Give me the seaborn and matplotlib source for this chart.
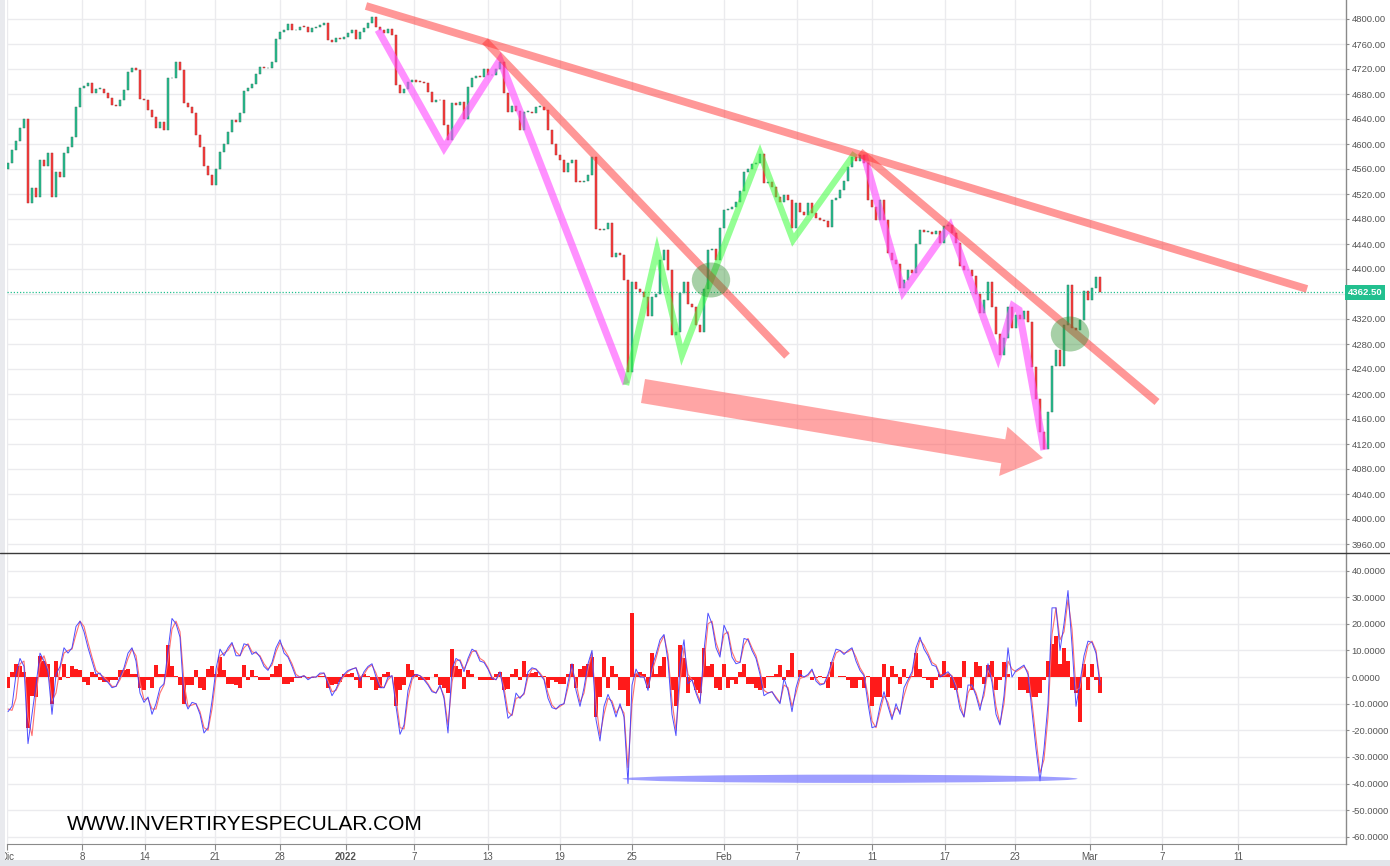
"""
S&P 500 futures (hourly) with trend annotations and an oscillator panel.
Writes out.png.
"""

import matplotlib
matplotlib.use("Agg")
import matplotlib.pyplot as plt
from matplotlib.lines import Line2D
from matplotlib.patches import Ellipse, FancyArrowPatch, Rectangle, ArrowStyle
import matplotlib.transforms as mtransforms
import numpy as np
import pandas as pd
import seaborn as sns

# ─── Data (one value per bar) ────────────────────────────────────────────────

FIRST_OPEN = 4560

CLOSE = [
    4570, 4590, 4605, 4625, 4640, 4505, 4530, 4515, 4575, 4565,
    4585, 4515, 4555, 4548, 4585, 4595, 4611, 4660, 4689, 4693,
    4697, 4682, 4688, 4688, 4681, 4674, 4662, 4661, 4670, 4686,
    4715, 4721, 4719, 4672, 4670, 4654, 4643, 4625, 4635, 4622,
    4705, 4705, 4732, 4718, 4665, 4659, 4650, 4615, 4595, 4565,
    4550, 4534, 4560, 4588, 4600, 4620, 4638, 4636, 4650, 4685,
    4690, 4696, 4712, 4723, 4721, 4722, 4731, 4768, 4779, 4782,
    4792, 4782, 4783, 4788, 4787, 4779, 4785, 4787, 4790, 4793,
    4766, 4763, 4769, 4768, 4771, 4778, 4782, 4768, 4779, 4786,
    4794, 4803, 4788, 4782, 4778, 4784, 4775, 4695, 4682, 4688,
    4700, 4703, 4700, 4699, 4697, 4683, 4667, 4671, 4670, 4630,
    4606, 4665, 4663, 4668, 4640, 4692, 4705, 4709, 4707, 4720,
    4710, 4710, 4720, 4731, 4682, 4652, 4661, 4653, 4622, 4651,
    4652, 4650, 4659, 4659, 4654, 4622, 4600, 4583, 4574, 4556,
    4570, 4575, 4540, 4539, 4541, 4550, 4580, 4464, 4462, 4464,
    4474, 4419, 4426, 4422, 4382, 4235, 4380, 4368, 4364, 4355,
    4325, 4355, 4360, 4414, 4430, 4398, 4295, 4300, 4362, 4380,
    4344, 4339, 4310, 4300, 4368, 4430, 4432, 4415, 4465, 4495,
    4496, 4500, 4507, 4525, 4555, 4560, 4568, 4570, 4584, 4538,
    4539, 4531, 4515, 4508, 4518, 4510, 4465, 4505, 4492, 4487,
    4506, 4490, 4481, 4478, 4477, 4468, 4510, 4514, 4527, 4541,
    4563, 4579, 4573, 4583, 4570, 4510, 4499, 4479, 4510, 4478,
    4426, 4414, 4408, 4370, 4382, 4398, 4394, 4440, 4462, 4459,
    4460, 4456, 4461, 4442, 4469, 4470, 4457, 4442, 4405, 4398,
    4398, 4389, 4360, 4330, 4350, 4380, 4339, 4296, 4262, 4290,
    4340, 4305, 4326, 4320, 4333, 4315, 4243, 4192, 4140, 4112,
    4172, 4245, 4270, 4245, 4310, 4375, 4305, 4302, 4318, 4365,
    4350, 4370, 4388, 4362.5,
]

OSC_FAST = [
    -13, -11, 1, 7, 4, -25, -14, -3, 9, 6,
    2, -14, 1, 4, 11, 9, 11, 19, 21, 17,
    11, 6, 1, 1.5, -1, -2, -4, -3.5, 0, 3.5,
    9, 11, 6, -6, -9.5, -7.5, -14, -10, -4, -2.5,
    10, 22, 20, 15, -8, -12, -9.5, -10, -14, -21,
    -19, -9, 3, 10.5, 8, 11, 13, 8, 8, 12.5,
    12, 8.5, 9.5, 7.5, 4, 2.5, 5.5, 11, 14, 9,
    7.5, 4, 0, 0, 0.5, -1, 0, 0, 1.5, 1.5,
    -2.5, -7, -4.5, -1, 1, 2.5, 3, 3.5, -1.5, 2,
    4, 5, 0, -4, -4, 0, 0.5, -11, -21.5, -18,
    -5, 0, 1, 0.5, -1, -3, -5.5, -6, -3, -8,
    -21, 3, 7, 6, 2, 7, 10.5, 9.5, 6, 5.5,
    3, -0.5, -1, 2, -6, -15.5, -14, -6, -8, -6,
    2, 3.5, 3, 1, -1, -8, -11.5, -12, -10.5, -10,
    -2, 5, -5, -11, -4, 5, 10, -16, -24, -11,
    -6.5, -10, -15, -10, -15, -40, -3, 3, 0, 0,
    -5, 4, 8.5, 14, 16, 6, -14, -22, 5, 14,
    -2.5, -1, -6, -10, 10, 24, 20, 11, 7.5, 19.5,
    16, 7.5, 5, 5.5, 14.5, 14, 10, 7, 1, -7,
    -6, -5.5, -8, -10, -0.5, -5, -13, -4, 1, 0,
    1, 3, -1.5, -3, -2.5, 1, 6, 10.5, 10, 8.5,
    10, 11, 6, 2.5, 0.5, -10, -19, -18.5, -11, -5.5,
    -11, -16, -10, -14, -4, -1, 2, 11, 15, 10.5,
    8, 4.5, 4, 0, 1, 2, 0, -4, -12, -15,
    -3, -3, -7, -12.5, -5, 5, -2, -14, -18, -7,
    11, 0, 2.5, 3.5, 4.5, 1, -13, -27, -39, -27,
    -10, 26, 26, 10, 20, 32.5, 12, -11, -2, 8,
    13.5, 13, 9, -3,
]

OSC_SLOW = [
    -12, -12.5, -8, 5, 6, -15, -22, -7, 5, 8,
    3, -9, -6, 3, 9, 10, 10.5, 16, 21, 19,
    13, 7.5, 2.5, 1, 0, -1.5, -3.5, -3.5, -1, 2.5,
    7, 10.5, 8, -2, -8.5, -8, -12, -12, -6, -3,
    6, 18, 21, 17, -2, -11, -10.5, -10, -13, -19,
    -20, -12, 0, 8, 9, 10, 12.5, 9.5, 8, 11,
    12.5, 9.5, 9, 8, 5, 3, 4.5, 9.5, 13, 10.5,
    8, 5, 1, 0, 0.5, -0.5, 0, 0, 1, 1.5,
    -1.5, -5.5, -5, -2, 0.5, 2, 3, 3.5, 0, 1,
    3.5, 4.5, 1.5, -3, -4, -1, 0.5, -8, -19, -19.5,
    -8, -1, 1, 0.5, -0.5, -2.5, -5, -6, -3.5, -7,
    -18, -2, 6, 6.5, 3, 6, 9.5, 10, 7, 6,
    3.5, 0, -1, 1.5, -4, -13, -14.5, -8, -7.5, -6.5,
    0, 3, 3, 1.5, -0.5, -6, -10.5, -12, -11, -10,
    -4, 3.5, -2, -9.5, -6, 3, 9, -10, -22, -14,
    -8, -9, -13.5, -11, -13.5, -34, -10, 1.5, 0.5, 0,
    -4, 2, 7, 12.5, 15.5, 8.5, -9, -20, -2, 11,
    1, -1, -5, -9, 5, 20, 21, 13, 8.5, 16,
    17, 9.5, 6, 5.5, 12, 14.5, 11, 8, 2.5, -5,
    -6, -5.5, -7.5, -9.5, -3, -4, -11, -6, -0.5, 0,
    0.5, 2.5, -0.5, -2.5, -2.5, 0, 4.5, 9, 10, 9,
    9.5, 10.5, 7.5, 3.5, 1, -7, -16.5, -19, -13, -7,
    -9.5, -15, -11.5, -13, -7, -2, 1, 8.5, 14, 12,
    9, 5.5, 4.5, 1, 0.5, 1.5, 0.5, -3, -10, -15,
    -6, -3, -6, -11, -7, 2.5, 0, -11, -17.5, -10,
    6, 3, 2, 3, 4, 2, -9.5, -23, -36, -31,
    -15, 16, 26, 14, 17, 29, 18, -5, -4, 5,
    12, 13.5, 10, -1,
]

OSC_HIST = [
    -4, 2, 5, 4, 2, -19, -7, -7.5, 8, 6,
    5, -10, 6, -1, 5, -0.5, 4, 3, 2.5, -2,
    -3, 2, 1, -1, -2, -2, -1, -1, 2.5, 2.5,
    3, 1, 1, -4, -5, -1, -4, 4.5, 1, 1,
    12, 4, 0.5, -3, -10, -3, -3, 2.5, -4, -5,
    3, 4, 1, 7.5, 2.5, -2.5, -2.5, -3, -4, 4.5,
    -1, 2.5, 0.5, -1, -1, -1, 1, 4, 5, -2.5,
    -2.5, -2, -0.5, -0.5, 0.5, -0.5, -0.5, 0, 0.5, 0.5,
    -4, -3, -2.5, -2, 1, 1, 1.5, -1, -4, 1,
    0.5, -1, -5, -4, 1, 2, 0, -11, -5, -3,
    5, 2.5, 1, -1, -1, -1, 0, 1, -3, -4,
    -6, 10.5, 4, 3, -4.5, 2.5, 1, 0, -1, -1,
    -1, -1, 1, 2, -5, -4.5, 1, 3, -1, 6,
    1, 1.5, 2, 0.5, 0.5, -4, -1, -2, -2.5, -2.5,
    1, 5, -4, 3, 4, 5, 7.5, -15, -7.5, 7.5,
    -4, 4, 1, -5, -5, -11, 24, 1, 2, 1,
    -4, 9, 1, 4, 7.5, 0, -5, -11, 12, 7,
    -6, -1, -5, -6, 11, 4, 5, -4, -5, 5,
    -4, -1, -2.5, 2, 5, -2.5, -2.5, -4, -5, -4,
    0.5, 0.5, 1, 4.5, -1, 2.5, 9, 0, 2.5, 0,
    0, -1, -0.5, 0.5, -0.5, -4, 5.5, 0, 0.5, 0.5,
    -1, -4, -4, -1, -4, 0.5, -11, -7.5, -7.5, 5,
    -7.5, 4, 1, -2.5, 3, -0.5, 0.5, 9, 3, -0.5,
    -1, -4, -1, 1, 6, 1, -4, -5, -4, 6,
    0, -5, 5.5, 4, -2.5, 4.5, 6, -5, -1, 5.5,
    1, 0, 0, -5, -5, -6, -7.5, -7.5, -6, -1,
    6, 12.5, 15.5, 5, 11, 6, -5, -6, -17, 5,
    -5, 5, -1, -6,
]

DATE_TICKS = [-0.25, 18.5, 34.25, 51.75, 68, 84.5, 101.5, 120, 138, 156,
              179, 197.25, 216, 234.25, 251.75, 270.5, 288.5, 307.5]
DATE_LABELS = ["Dic", "8", "14", "21", "28", "2022", "7", "13", "19", "25",
               "Feb", "7", "11", "17", "23", "Mar", "7", "11"]

PRICE_TICKS = list(range(3960, 4801, 40))
OSC_TICKS = list(range(-60, 41, 10))
LAST_PRICE = 4362.5

# drawings on the price panel, as (bar, price) points
TREND_LINES = [
    [(89.5, 4820.8), (324.75, 4368.0)],
    [(119.25, 4764.8), (194.75, 4260.8)],
    [(213.0, 4587.2), (287.25, 4187.2)],
]
PINK_ZIGZAGS = [
    [(92.5, 4782.4), (109.0, 4593.6), (123.0, 4734.4), (154.5, 4216.0)],
    [(214.0, 4582.4), (223.75, 4363.2), (235.5, 4468.8), (247.5, 4259.2),
     (251.25, 4340.8), (252.75, 4334.4), (259.0, 4110.4)],
]
GREEN_ZIGZAG = [(154.5, 4214.4), (162.25, 4430.4), (168.5, 4262.4),
                (188.0, 4585.6), (196.25, 4446.4), (211.75, 4585.6)]
BREAKOUTS = [(175.75, 4382.4), (265.5, 4296.0)]
ARROW = [(158.75, 4204.8), (258.75, 4097.6)]
OSC_LOW_LINK = (210.5, -38.2, 113.75)  # centre bar, value, length in bars

UP_COLOR = "#22c08f"
DOWN_COLOR = "#ff3a3a"
UP_EDGE = "#3b7f68"
DOWN_EDGE = "#a83a3a"
GRID_COLOR = "#ebebee"
AXIS_COLOR = "#8a8a8a"
TEXT_COLOR = "#555555"

W, H = 1390, 866


def style_axis(ax, ticks, labels):
    ax.set_xlim(-0.25, 334.5)
    ax.yaxis.tick_right()
    ax.set_yticks(ticks)
    ax.set_yticklabels(labels)
    ax.set_xticks(DATE_TICKS)
    ax.grid(True, color=GRID_COLOR, linewidth=1.0)
    ax.set_axisbelow(True)
    ax.tick_params(axis="y", right=True, length=2.5, width=0.8,
                   color=AXIS_COLOR, labelsize=6.8, labelcolor=TEXT_COLOR,
                   pad=1.5)
    for side in ("left", "top", "bottom"):
        ax.spines[side].set_visible(False)
    ax.spines["right"].set_color(AXIS_COLOR)
    ax.spines["right"].set_linewidth(1.0)


def plot_price(ax):
    closes = np.array(CLOSE, dtype=float)
    opens = np.concatenate([[FIRST_OPEN], closes[:-1]])
    x = np.arange(len(closes))
    low = np.minimum(opens, closes)
    body = np.maximum(np.abs(closes - opens), 1.2)
    up = closes >= opens
    colors = [UP_COLOR if u else DOWN_COLOR for u in up]
    edges = [UP_EDGE if u else DOWN_EDGE for u in up]
    ax.bar(x, body, bottom=low, width=0.5, color=colors, edgecolor=edges,
           linewidth=0.35, zorder=2)

    # the 4360 label sits under the last-price tag, as on the original
    labels = ["" if t == 4360 else "{:.2f}".format(t) for t in PRICE_TICKS]
    style_axis(ax, PRICE_TICKS, labels)
    ax.set_ylim(3945.6, 4830.4)
    ax.tick_params(axis="x", bottom=False, labelbottom=False)

    # last price line and tag
    ax.axhline(LAST_PRICE, color="#22c08f", linestyle=(0, (1, 1.5)),
               linewidth=0.9, zorder=3)
    tr = mtransforms.blended_transform_factory(ax.transAxes, ax.transData)
    ax.text(1.0012, LAST_PRICE, "{:.2f}".format(LAST_PRICE), transform=tr,
            ha="left", va="center", fontsize=6.8, fontweight="bold",
            color="white", zorder=6,
            bbox=dict(boxstyle="square,pad=0.3", fc="#22c08f", ec="none"))

    # hand drawings
    for pts in PINK_ZIGZAGS:
        xs, ys = zip(*pts)
        ax.plot(xs, ys, color="#ff4dff", alpha=0.62, linewidth=5.2,
                solid_capstyle="butt", solid_joinstyle="miter", zorder=4)
    xs, ys = zip(*GREEN_ZIGZAG)
    ax.plot(xs, ys, color="#3dff3d", alpha=0.55, linewidth=4.6,
            solid_capstyle="butt", solid_joinstyle="miter", zorder=4)
    for pts in TREND_LINES:
        xs, ys = zip(*pts)
        ax.plot(xs, ys, color="#ff3030", alpha=0.5, linewidth=5.6,
                solid_capstyle="butt", zorder=5)
    for cx, cy in BREAKOUTS:
        ax.add_patch(Ellipse((cx, cy), 9.6, 56, facecolor="#2f8f2f",
                             alpha=0.42, edgecolor="none", zorder=5))
    arrow = FancyArrowPatch(
        ARROW[0], ARROW[1],
        arrowstyle=ArrowStyle.Simple(head_length=2.9, head_width=3.6,
                                     tail_width=1.75),
        mutation_scale=10, shrinkA=0, shrinkB=0,
        facecolor="#ff4d4d", edgecolor="none", alpha=0.5, zorder=5)
    ax.add_patch(arrow)


def plot_oscillator(ax):
    hist = np.array(OSC_HIST, dtype=float)
    ax.bar(np.arange(len(hist)), hist, width=1.0, color="#ff1a1a",
           linewidth=0, zorder=2)
    df = pd.DataFrame({"bar": np.arange(len(OSC_FAST)), "fast": OSC_FAST})
    df_slow = pd.DataFrame({"bar": np.arange(len(OSC_SLOW)), "slow": OSC_SLOW})
    sns.lineplot(data=df_slow, x="bar", y="slow", ax=ax, color="#ff7070",
                 linewidth=0.8, zorder=3)
    sns.lineplot(data=df, x="bar", y="fast", ax=ax, color="#3b3bff",
                 linewidth=0.7, alpha=0.9, zorder=4)
    cx, cy, length = OSC_LOW_LINK
    ax.add_patch(Ellipse((cx, cy), length, 3.1, facecolor="#6b6bff",
                         alpha=0.65, edgecolor="none", zorder=5))

    style_axis(ax, OSC_TICKS, ["{:.4f}".format(t) for t in OSC_TICKS])
    ax.set_ylim(-62.7, 46.6)
    ax.set_xlabel("")
    ax.set_ylabel("")
    ax.spines["bottom"].set_visible(True)
    ax.spines["bottom"].set_color(AXIS_COLOR)
    ax.set_xticklabels(DATE_LABELS)
    ax.tick_params(axis="x", bottom=True, length=4, width=0.8,
                   color=AXIS_COLOR, labelsize=7, labelcolor=TEXT_COLOR, pad=2)
    for lbl in ax.get_xticklabels():
        if lbl.get_text() == "2022":
            lbl.set_fontweight("bold")


def main():
    sns.set_style("white")
    plt.rcParams["font.family"] = ["Liberation Sans", "DejaVu Sans"]

    fig = plt.figure(figsize=(W / 100, H / 100), dpi=100)
    left = 7 / W
    width = (1346 - 7) / W
    ax_price = fig.add_axes([left, 1 - 553 / H, width, 553 / H])
    ax_osc = fig.add_axes([left, 1 - 844 / H, width, (844 - 553) / H])

    plot_price(ax_price)
    plot_oscillator(ax_osc)

    # panel divider, side strip and bottom toolbar
    fig.add_artist(Line2D([0, 1], [1 - 553 / H] * 2, transform=fig.transFigure,
                          color="#3a3a3a", linewidth=1.0))
    fig.add_artist(Rectangle((0, 0), 5 / W, 1, transform=fig.transFigure,
                             facecolor="#e9eaee", edgecolor="none"))
    fig.add_artist(Rectangle((0, 0), 1, 6 / H, transform=fig.transFigure,
                             facecolor="#e3e5ea", edgecolor="none"))

    fig.text(67 / W, 1 - 825 / H, "WWW.INVERTIRYESPECULAR.COM",
             ha="left", va="center", fontsize=15, color="black")

    fig.savefig("out.png", dpi=100)
    plt.close(fig)


if __name__ == "__main__":
    main()
